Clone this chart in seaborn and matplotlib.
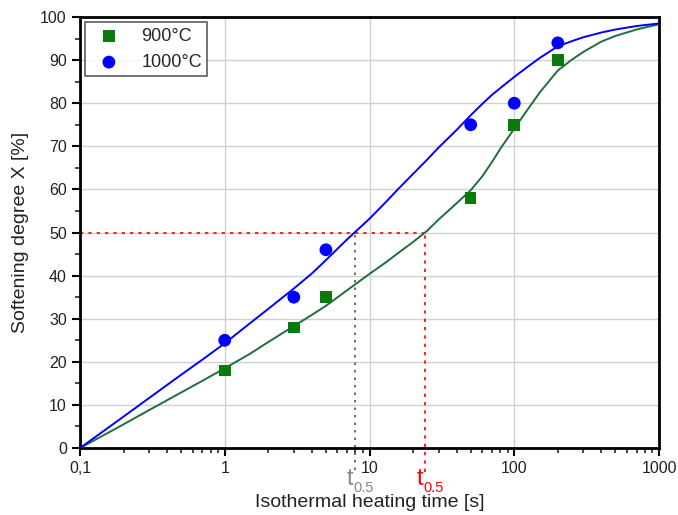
import numpy as np
import pandas as pd
import matplotlib
matplotlib.use("Agg")
import matplotlib.pyplot as plt
import seaborn as sns
from matplotlib.ticker import FixedLocator, FixedFormatter, MultipleLocator, LogLocator, NullFormatter

# measured points
t_pts = [1, 3, 5, 50, 100, 200]
x900 = [18, 28, 35, 58, 75, 90]
x1000 = [25, 35, 46, 75, 80, 94]

# fitted curves
t_fit = [0.1, 0.2, 0.3, 0.5, 0.7, 1, 1.5, 2, 3, 4, 5, 7, 10, 13, 16, 20, 25, 30, 40, 50,
         60, 70, 80, 100, 120, 150, 200, 250, 300, 400, 500, 700, 1000]
fit900 = [0, 5.5, 8.8, 12.9, 15.6, 18.5, 21.9, 24.6, 28.3, 30.9, 33.0, 36.6, 40.4, 43.1, 45.4, 47.8,
          50.4, 53.0, 56.8, 59.8, 63.0, 66.3, 69.4, 74.1, 77.9, 82.5, 87.6, 90.1, 91.9, 94.3, 95.6, 97.1, 98.3]
fit1000 = [0, 7.3, 11.6, 17.0, 20.5, 24.3, 29.0, 32.3, 37.0, 40.5, 43.6, 48.4, 53.2, 57.1, 60.3, 63.6,
           66.9, 69.7, 73.8, 77.2, 79.8, 81.9, 83.5, 86.1, 88.1, 90.5, 93.2, 94.4, 95.3, 96.4, 97.1, 97.9, 98.5]

t05_1000 = 7.9
t05_900 = 24
xticks = [0.1, 1, 10, 100, 1000]
xticklabels = ["0,1", "1", "10", "100", "1000"]

sns.set_theme(style="white")
plt.rcParams['font.family'] = ['Liberation Sans', 'DejaVu Sans']

fig = plt.figure(figsize=(6.78, 5.15), dpi=100)
ax = fig.add_axes([0.118, 0.130, 0.854, 0.837])

green_line = "#1f6e3c"
green_pt = "#0a7a0a"
blue = "#0000ff"

sns.lineplot(x=t_fit, y=fit900, ax=ax, color=green_line, lw=1.4, zorder=3)
sns.lineplot(x=t_fit, y=fit1000, ax=ax, color=blue, lw=1.4, zorder=3)

sns.scatterplot(x=t_pts, y=x900, ax=ax, marker="s", color=green_pt, s=70, edgecolor="none", zorder=4, label="900°C")
sns.scatterplot(x=t_pts, y=x1000, ax=ax, marker="o", color=blue, s=85, edgecolor="none", zorder=4, label="1000°C")

ax.set_xscale("log")
ax.set_xlim(0.1, 1000)
ax.set_ylim(0, 100)

# t0.5 guide lines (extend a little below the axis as in the original)
ax.plot([0.1, t05_900], [50, 50], color="red", ls=(0, (2, 3)), lw=1.2, zorder=2)
ax.plot([t05_900, t05_900], [-5.5, 50], color="red", ls=(0, (2, 3)), lw=1.2, zorder=2, clip_on=False)
ax.plot([t05_1000, t05_1000], [-5.0, 50], color="#555555", ls=(0, (1.5, 3)), lw=1.2, zorder=2, clip_on=False)

ax.xaxis.set_major_locator(FixedLocator(xticks))
ax.xaxis.set_major_formatter(FixedFormatter(xticklabels))
ax.xaxis.set_minor_locator(LogLocator(base=10, subs=np.arange(2, 10)))
ax.xaxis.set_minor_formatter(NullFormatter())
ax.yaxis.set_major_locator(MultipleLocator(10))
ax.yaxis.set_minor_locator(MultipleLocator(5))

ax.grid(True, which="major", color="#d0d0d0", lw=1.0)
ax.set_axisbelow(True)

for s in ax.spines.values():
    s.set_color("black")
    s.set_linewidth(2)
ax.tick_params(axis="both", which="major", direction="out", length=6, width=1.5, labelsize=11.5, colors="black", bottom=True, left=True)
ax.tick_params(axis="both", which="minor", direction="out", length=3.5, width=1.2, bottom=True, left=True)
for lbl in ax.get_xticklabels() + ax.get_yticklabels():
    lbl.set_color("#222222")

ax.set_xlabel("Isothermal heating time [s]", fontsize=14, color="#222222", labelpad=13)
ax.set_ylabel("Softening degree X [%]", fontsize=14, color="#222222", labelpad=8)

ax.text(t05_1000 * 0.98, -4.6, "t", color="#888888", fontsize=17, ha="right", va="top")
ax.text(t05_1000 * 0.98, -7.6, "0.5", color="#888888", fontsize=10.5, ha="left", va="top")
ax.text(t05_900 * 0.98, -4.6, "t", color="red", fontsize=17, ha="right", va="top")
ax.text(t05_900 * 0.98, -7.6, "0.5", color="red", fontsize=10.5, ha="left", va="top")

leg = ax.legend(loc="upper left", fontsize=13, frameon=True, fancybox=False, edgecolor="#333333",
                borderaxespad=0.3, handletextpad=0.8, borderpad=0.3, markerscale=1.0)
leg.get_frame().set_linewidth(1.2)

fig.savefig("out.png", dpi=100)
